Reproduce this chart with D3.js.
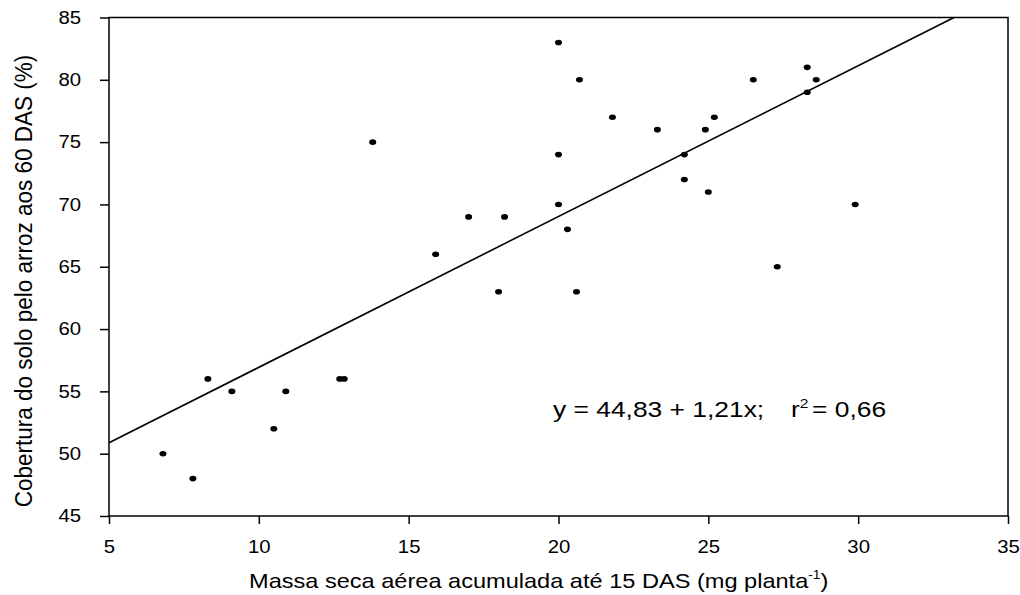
<!DOCTYPE html>
<html>
<head>
<meta charset="utf-8">
<script src="https://cdn.jsdelivr.net/npm/d3@7"></script>
<style>
body { margin: 0; background: #fff; }
text { font-family: Arial, "Liberation Sans", sans-serif; fill: #000; }
</style>
</head>
<body>
<script>
// dados: massa seca (x) e cobertura do solo (y)
var massa = [6.8, 7.8, 8.3, 9.1, 10.5, 10.9, 12.7, 12.85, 13.8, 15.9, 17.0, 18.0, 18.2,
  20.0, 20.0, 20.0, 20.3, 20.6, 20.7, 21.8, 23.3, 24.2, 24.2, 24.9, 25.0, 25.2,
  26.5, 27.3, 28.3, 28.3, 28.6, 29.9]
var cobertura = [50, 48, 56, 55, 52, 55, 56, 56, 75, 66, 69, 63, 69,
  83, 74, 70, 68, 63, 80, 77, 76, 74, 72, 76, 71, 77,
  80, 65, 81, 79, 80, 70]
var xTicks = [5, 10, 15, 20, 25, 30, 35]
var yTicks = [45, 50, 55, 60, 65, 70, 75, 80, 85]
var a = 44.83, b = 1.21

var svg = d3.select("body").append("svg")
  .attr("width", 1020)
  .attr("height", 595)

var esq = 109, dir = 1008, topo = 17.5, base = 516
var estica = 1.13 // o original esta esticado na horizontal

var x = d3.scaleLinear().domain([5, 35]).range([esq, dir])
var y = d3.scaleLinear().domain([45, 85]).range([base, topo])

// moldura
svg.append("rect")
  .attr("x", esq).attr("y", topo)
  .attr("width", dir - esq).attr("height", base - topo)
  .style("fill", "none").style("stroke", "#000").style("stroke-width", 1.5)

var eixoX = svg.append("g")
  .attr("transform", "translate(0," + base + ")")
  .call(d3.axisBottom(x).tickValues(xTicks).tickSize(8).tickFormat(d3.format("d")))
eixoX.select(".domain").remove()
eixoX.selectAll("line").style("stroke-width", 1.5)
eixoX.selectAll("text")
  .attr("y", 0).attr("dy", 0)
  .attr("transform", "translate(0,37) scale(" + estica + ",1)")
  .style("font-size", "18px")

var eixoY = svg.append("g")
  .attr("transform", "translate(" + esq + ",0)")
  .call(d3.axisLeft(y).tickValues(yTicks).tickSize(9).tickFormat(d3.format("d")))
eixoY.select(".domain").remove()
eixoY.selectAll("line").style("stroke-width", 1.5)
eixoY.selectAll("text")
  .attr("x", 0)
  .attr("transform", "translate(-28,0) scale(" + estica + ",1)")
  .style("font-size", "18px")

// reta de regressao
var xFim = (85 - a) / b
svg.append("line")
  .attr("x1", x(5)).attr("y1", y(a + b * 5))
  .attr("x2", x(xFim)).attr("y2", y(a + b * xFim))
  .style("stroke", "#000").style("stroke-width", 1.6)

// pontos
svg.append("g").selectAll("ellipse")
  .data(massa)
  .enter()
  .append("ellipse")
  .attr("cx", function(d) { return x(d) })
  .attr("cy", function(d, i) { return y(cobertura[i]) })
  .attr("rx", 3.5)
  .attr("ry", 2.8)
  .style("fill", "#000")

// equacao
svg.append("text")
  .attr("transform", "translate(553,417) scale(1.2,1)")
  .style("font-size", "22px")
  .text("y = 44,83 + 1,21x;")
var eq2 = svg.append("text")
  .attr("transform", "translate(791,417) scale(1.2,1)")
  .style("font-size", "22px")
eq2.append("tspan").text("r")
eq2.append("tspan").attr("dy", -9).style("font-size", "13px").text("2")
eq2.append("tspan").attr("dy", 9).attr("dx", 3).text("= 0,66")

// titulos
var tx = svg.append("text")
  .attr("transform", "translate(249,588) scale(1.15,1)")
  .style("font-size", "20.5px")
tx.append("tspan").text("Massa seca aérea acumulada até 15 DAS (mg planta")
tx.append("tspan").attr("dy", -9).style("font-size", "12px").text("-1")
tx.append("tspan").attr("dy", 9).text(")")

svg.append("text")
  .attr("transform", "translate(31.5,281) rotate(-90) scale(1,1.1)")
  .attr("text-anchor", "middle")
  .style("font-size", "22.5px")
  .text("Cobertura do solo pelo arroz aos 60 DAS (%)")
</script>
</body>
</html>
